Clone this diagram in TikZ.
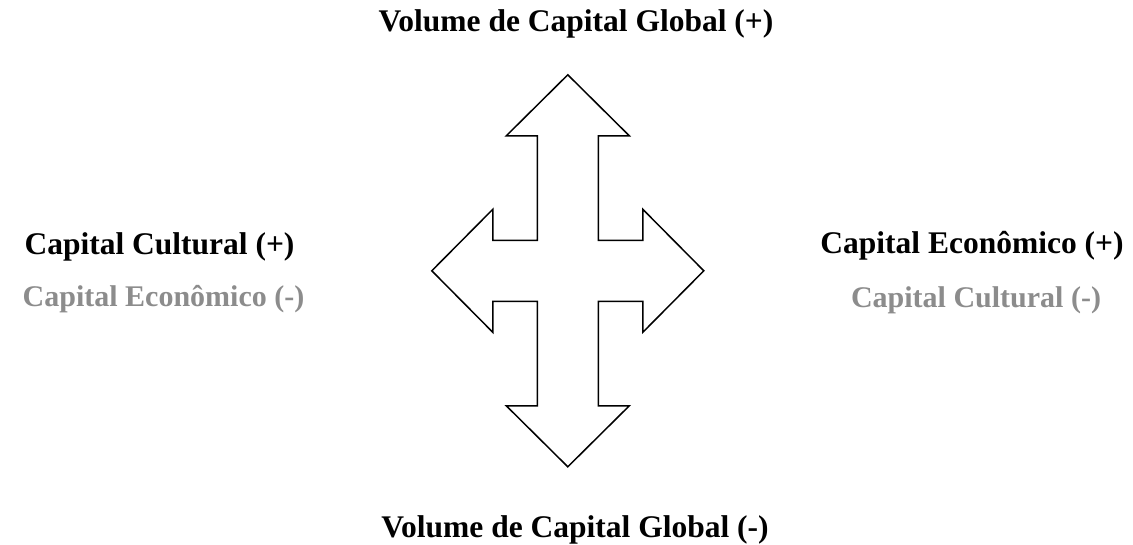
\documentclass[tikz,border=0pt]{standalone}
\usepackage{fontspec}
\setmainfont{Liberation Serif}
\definecolor{labelgrey}{RGB}{140,140,140}
\begin{document}
\begin{tikzpicture}[x=1pt,y=-1pt,
  lbl/.style={anchor=base,inner sep=0pt,font=\fontsize{31.5}{38}\selectfont\bfseries},
  poslbl/.style={lbl,text=black},
  neglbl/.style={anchor=base,inner sep=0pt,font=\fontsize{30}{36}\selectfont\bfseries,text=labelgrey},
  crossarrow/.style={draw=black,line width=1.5pt,line join=miter,fill=white}]
\useasboundingbox (0,0) rectangle (1133,545);
\begin{scope}[shift={(567.8,270.8)}]
\draw[crossarrow] (0,-196) -- (61.5,-135) -- (30.5,-135) -- (30.5,-30.5) -- (75,-30.5) -- (75,-61.5)
  -- (136,0) -- (75,61.5) -- (75,30.5) -- (30.5,30.5) -- (30.5,135) -- (61.5,135)
  -- (0,196) -- (-61.5,135) -- (-30.5,135) -- (-30.5,30.5) -- (-75,30.5) -- (-75,61.5)
  -- (-136,0) -- (-75,-61.5) -- (-75,-30.5) -- (-30.5,-30.5) -- (-30.5,-135) -- (-61.5,-135) -- cycle;
\end{scope}
\node[poslbl] (top) at (576,32) {Volume de Capital Global (+)};
\node[poslbl] (bottom) at (575,537) {Volume de Capital Global (-)};
\node[poslbl] (leftpos) at (159.5,255) {Capital Cultural (+)};
\node[neglbl] (leftneg) at (163.5,307) {Capital Econômico (-)};
\node[poslbl] (rightpos) at (972,254) {Capital Econômico (+)};
\node[neglbl] (rightneg) at (976,308) {Capital Cultural (-)};
\end{tikzpicture}
\end{document}
